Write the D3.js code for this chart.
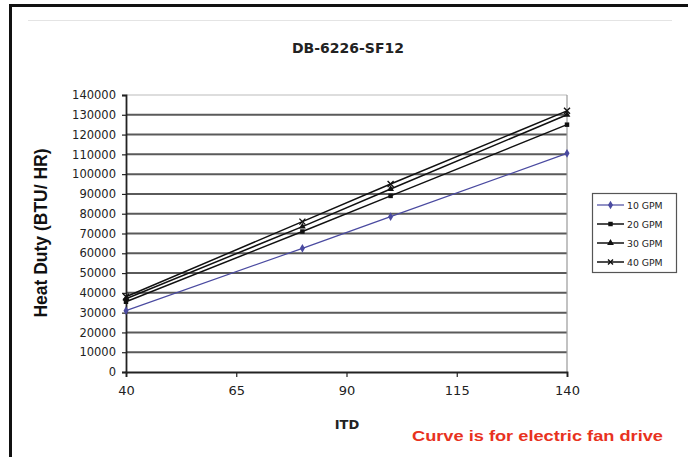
<!DOCTYPE html>
<html><head><meta charset="utf-8">
<script src="https://cdn.jsdelivr.net/npm/d3@7"></script>
<style>body{margin:0;background:#fff}svg{display:block}</style>
</head><body><svg id="c" width="688" height="457"></svg>
<script>
const itd = [40, 80, 100, 140];
const gpm10 = [31000, 62500, 78500, 110500];
const gpm20 = [35500, 71000, 89000, 125000];
const gpm30 = [37000, 73500, 92500, 130000];
const gpm40 = [38000, 76000, 95000, 132000];
const seriesNames = ["10 GPM", "20 GPM", "30 GPM", "40 GPM"];
const xTicks = [40, 65, 90, 115, 140];
const yTicks = d3.range(0, 140001, 10000);

const svg = d3.select("#c");
const L = 126, R = 567, T = 95, B = 372;
const x = d3.scaleLinear().domain([40, 140]).range([L, R]);
const y = d3.scaleLinear().domain([0, 140000]).range([B, T]);

// outer frame
svg.append("line").attr("x1", 10.5).attr("x2", 10.5).attr("y1", 4).attr("y2", 457).attr("stroke", "#111").attr("stroke-width", 3);
svg.append("line").attr("x1", 9).attr("x2", 688).attr("y1", 5.5).attr("y2", 5.5).attr("stroke", "#111").attr("stroke-width", 3);
svg.append("line").attr("x1", 28).attr("x2", 672).attr("y1", 20.5).attr("y2", 20.5).attr("stroke", "#e4e4e4").attr("stroke-width", 1);

// title
svg.append("text").attr("x", 348).attr("y", 53).attr("text-anchor", "middle")
  .attr("font-family", "DejaVu Sans, sans-serif").attr("font-weight", "bold").attr("font-size", 14)
  .attr("fill", "#222").text("DB-6226-SF12");

// gridlines
svg.append("g").selectAll("line").data(yTicks.filter(d => d > 0)).join("line")
  .attr("x1", L).attr("x2", R).attr("y1", d => y(d)).attr("y2", d => y(d))
  .attr("stroke", d => d === 140000 ? "#bbb" : "#5a5a5a").attr("stroke-width", d => d === 140000 ? 1 : 2);
svg.append("line").attr("x1", R).attr("x2", R).attr("y1", T).attr("y2", B).attr("stroke", "#999").attr("stroke-width", 1.2);

// axes
const yAxis = svg.append("g").attr("transform", `translate(${L},0)`)
  .call(d3.axisLeft(y).tickValues(yTicks).tickSize(4).tickPadding(6).tickFormat(d3.format("d")));
const xAxis = svg.append("g").attr("transform", `translate(0,${B})`)
  .call(d3.axisBottom(x).tickValues(xTicks).tickSize(5).tickPadding(9));
[yAxis, xAxis].forEach(g => {
  g.select(".domain").attr("stroke", "#222").attr("stroke-width", 1.8);
  g.selectAll(".tick line").attr("stroke", "#222").attr("stroke-width", 1.2);
  g.selectAll("text").attr("font-family", "DejaVu Sans, sans-serif").attr("font-size", 11.5).attr("fill", "#222");
});
xAxis.selectAll("text").attr("font-size", 13);

// axis titles
svg.append("text").attr("transform", "translate(47,233) rotate(-90)").attr("text-anchor", "middle")
  .attr("font-family", "Liberation Sans, Arial, sans-serif").attr("font-weight", "bold").attr("font-size", 17.5)
  .attr("fill", "#111").text("Heat Duty (BTU/ HR)");
svg.append("text").attr("x", 347).attr("y", 429).attr("text-anchor", "middle")
  .attr("font-family", "DejaVu Sans, sans-serif").attr("font-weight", "bold").attr("font-size", 13)
  .attr("fill", "#222").text("ITD");
svg.append("text").attr("x", 412).attr("y", 441)
  .attr("textLength", 251).attr("lengthAdjust", "spacingAndGlyphs")
  .attr("font-family", "Liberation Sans, Arial, sans-serif").attr("font-weight", "bold").attr("font-size", 15)
  .attr("fill", "#e8321e").text("Curve is for electric fan drive");

// series
const data = [gpm10, gpm20, gpm30, gpm40];
const colors = ["#4a4aa0", "#111", "#111", "#111"];
const widths = [1.2, 1.5, 1.5, 1.5];
const syms = [d3.symbolDiamond, d3.symbolSquare, d3.symbolTriangle, d3.symbolCross];
const line = d3.line().x((d, i) => x(itd[i])).y(d => y(d));

function marker(g, k, cx, cy, size) {
  if (k === 3) {
    const s = size;
    g.append("path").attr("d", `M${cx - s},${cy - s}L${cx + s},${cy + s}M${cx - s},${cy + s}L${cx + s},${cy - s}`)
      .attr("stroke", colors[k]).attr("stroke-width", 1.4).attr("fill", "none");
  } else {
    g.append("path").attr("d", d3.symbol().type(syms[k]).size(k === 0 ? 22 : 20)())
      .attr("transform", `translate(${cx},${cy})`).attr("fill", colors[k]);
  }
}

data.forEach((vals, k) => {
  const g = svg.append("g");
  g.append("path").attr("d", line(vals)).attr("fill", "none").attr("stroke", colors[k]).attr("stroke-width", widths[k]);
  vals.forEach((v, i) => marker(g, k, x(itd[i]), y(v), 3));
});

// legend
const lg = svg.append("g");
lg.append("rect").attr("x", 592.5).attr("y", 193.5).attr("width", 84).attr("height", 79)
  .attr("fill", "#fff").attr("stroke", "#555").attr("stroke-width", 1.2);
seriesNames.forEach((n, k) => {
  const ly = 205 + k * 19;
  lg.append("line").attr("x1", 597).attr("x2", 624).attr("y1", ly).attr("y2", ly).attr("stroke", colors[k]).attr("stroke-width", widths[k]);
  marker(lg, k, 610.5, ly, 2.5);
  lg.append("text").attr("x", 627).attr("y", ly + 3.5)
    .attr("font-family", "DejaVu Sans, sans-serif").attr("font-size", 9.3).attr("fill", "#222").text(n);
});
</script></body></html>
